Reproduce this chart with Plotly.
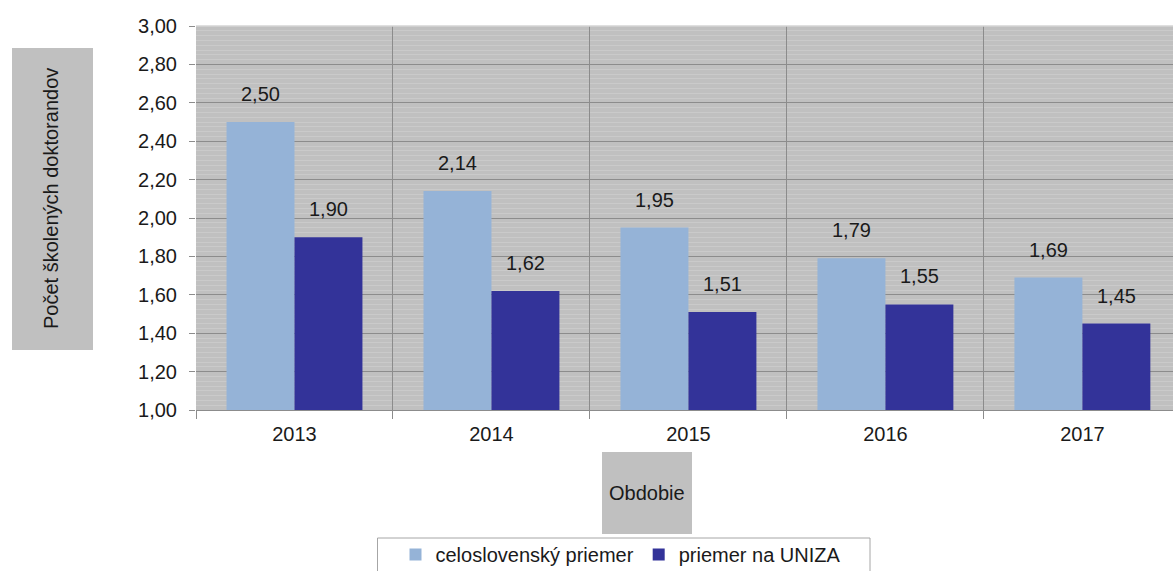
import plotly.graph_objects as go

years = ["2013", "2014", "2015", "2016", "2017"]
celoslovensky = [2.50, 2.14, 1.95, 1.79, 1.69]
uniza = [1.90, 1.62, 1.51, 1.55, 1.45]
series_names = ["celoslovenský priemer", "priemer na UNIZA"]
y_title = "Počet školených doktorandov"
x_title = "Obdobie"

LIGHT = "#95b3d7"
DARK = "#333399"
BG = "#c0c0c0"
GRID = "#8c8c8c"
FONT = "Liberation Sans, Arial, sans-serif"
TXT = "#1a1a1a"

W, H = 1173, 571
L, T, B = 196, 26, 161
PW = W - L
PH = H - T - B


def px_x(p):
    return (p - L) / PW


def px_y(p):
    return (H - B - p) / PH


fig = go.Figure()
fig.add_trace(go.Bar(x=years, y=celoslovensky, name=series_names[0],
                     marker=dict(color=LIGHT, line=dict(width=0))))
fig.add_trace(go.Bar(x=years, y=uniza, name=series_names[1],
                     marker=dict(color=DARK, line=dict(width=0))))

half = (1 - 0.31) / 4
annotations = []
for i, (a, b) in enumerate(zip(celoslovensky, uniza)):
    for val, off in ((a, -half), (b, half)):
        annotations.append(dict(
            x=i + off, y=val, xref="x", yref="y",
            text=f"{val:.2f}".replace(".", ","), showarrow=False,
            yshift=28, font=dict(size=20, color=TXT, family=FONT)))

shapes = [
    dict(type="rect", xref="paper", yref="paper",
         x0=px_x(12), x1=px_x(93), y0=px_y(350), y1=px_y(48),
         fillcolor=BG, line=dict(width=0), layer="below"),
    dict(type="rect", xref="paper", yref="paper",
         x0=px_x(602), x1=px_x(692), y0=px_y(534), y1=px_y(452),
         fillcolor=BG, line=dict(width=0), layer="below"),
    dict(type="line", xref="paper", yref="paper",
         x0=0, x1=1, y0=1, y1=1, line=dict(color="#d4d4d4", width=1.5)),
    # legend frame
    dict(type="rect", xref="paper", yref="paper",
         x0=px_x(377.5), x1=px_x(870), y0=px_y(580), y1=px_y(538),
         fillcolor="rgba(0,0,0,0)", line=dict(color="#a6a6a6", width=1)),
]
annotations.append(dict(
    x=px_x(51), y=px_y(199), xref="paper", yref="paper",
    xanchor="center", yanchor="middle",
    text=y_title, textangle=-90, showarrow=False,
    font=dict(size=20, color=TXT, family=FONT)))
annotations.append(dict(
    x=px_x(647), y=px_y(493), xref="paper", yref="paper",
    xanchor="center", yanchor="middle",
    text=x_title, showarrow=False,
    font=dict(size=20, color=TXT, family=FONT)))

fig.update_layout(
    width=W, height=H,
    margin=dict(l=L, r=0, t=T, b=B, pad=0, autoexpand=False),
    paper_bgcolor="white", plot_bgcolor=BG,
    barmode="group", bargap=0.31, bargroupgap=0,
    separators=", ",
    font=dict(family=FONT, size=20, color=TXT),
    showlegend=True,
    legend=dict(orientation="h", x=px_x(621), xanchor="center",
                y=px_y(535), yanchor="top",
                borderwidth=0, bgcolor="rgba(0,0,0,0)",
                font=dict(size=20, color=TXT, family=FONT),
                itemwidth=30, traceorder="normal"),
    shapes=shapes,
    annotations=annotations,
)
fig.update_xaxes(
    type="category", range=[-0.5, 4.46],
    tickson="boundaries", showgrid=True, gridcolor=GRID, gridwidth=1,
    ticks="outside", ticklen=8, tickcolor=GRID,
    showline=True, linecolor=GRID, linewidth=1,
    ticklabelstandoff=6,
    tickfont=dict(size=20, color=TXT, family=FONT),
)
fig.update_yaxes(
    range=[1, 3], dtick=0.2, tick0=1, tickformat=".2f",
    showgrid=True, gridcolor=GRID, gridwidth=1,
    ticks="outside", ticklen=6, tickcolor=GRID,
    showline=False, zeroline=False,
    ticklabelstandoff=8,
    tickfont=dict(size=20, color=TXT, family=FONT),
    minor=dict(dtick=0.025, showgrid=True, gridcolor="#cacaca", gridwidth=1, ticks=""),
)

fig.write_html("out.html")
